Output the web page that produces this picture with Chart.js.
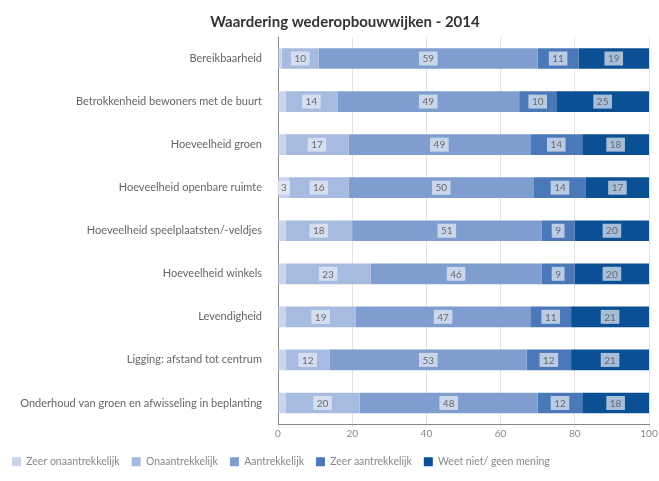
<!DOCTYPE html>
<html>
<head>
<meta charset="utf-8">
<script src="https://cdn.jsdelivr.net/npm/chart.js@4.4.0/dist/chart.umd.min.js"></script>
<style>
  html, body { margin: 0; padding: 0; background: #fff; }
  #wrap { width: 659px; height: 481px; position: relative; }
</style>
</head>
<body>
<div id="wrap"><canvas id="chart"></canvas></div>
<script>
const chartTitle = 'Waardering wederopbouwwijken - 2014';

const categories = [
    'Bereikbaarheid',
    'Betrokkenheid bewoners met de buurt',
    'Hoeveelheid groen',
    'Hoeveelheid openbare ruimte',
    'Hoeveelheid speelplaatsten/-veldjes',
    'Hoeveelheid winkels',
    'Levendigheid',
    'Ligging: afstand tot centrum',
    'Onderhoud van groen en afwisseling in beplanting'
];

const zeerOnaantrekkelijk = [1, 2, 2, 3, 2, 2, 2, 2, 2];
const onaantrekkelijk     = [10, 14, 17, 16, 18, 23, 19, 12, 20];
const aantrekkelijk       = [59, 49, 49, 50, 51, 46, 47, 53, 48];
const zeerAantrekkelijk   = [11, 10, 14, 14, 9, 9, 11, 12, 12];
const weetNiet            = [19, 25, 18, 17, 20, 20, 21, 21, 18];

const xTicks = [0, 20, 40, 60, 80, 100];

const font = 'Lato, "Open Sans", sans-serif';

// title sits a bit right of the canvas centre in the original
const titleDraw = {
    id: 'titleDraw',
    afterDraw(chart) {
        const ctx = chart.ctx;
        ctx.save();
        ctx.font = 'bold 15px ' + font;
        ctx.fillStyle = '#333';
        ctx.textAlign = 'center';
        ctx.textBaseline = 'middle';
        ctx.fillText(chartTitle, 345, 22);
        ctx.restore();
    }
};

const barLabels = {
    id: 'barLabels',
    afterDatasetsDraw(chart) {
        const ctx = chart.ctx;
        ctx.save();
        ctx.font = '10px ' + font;
        ctx.textAlign = 'center';
        ctx.textBaseline = 'middle';
        chart.data.datasets.forEach((ds, i) => {
            chart.getDatasetMeta(i).data.forEach((bar, j) => {
                const v = ds.data[j];
                if (v < 3) return;
                const txt = String(v);
                const w = ctx.measureText(txt).width + 7;
                const x = (bar.x + bar.base) / 2;
                const y = bar.y;
                ctx.fillStyle = 'rgba(232,238,248,0.7)';
                ctx.fillRect(x - w / 2, y - 7, w, 14);
                ctx.fillStyle = '#6a6a6a';
                ctx.fillText(txt, x, y + 0.5);
            });
        });
        ctx.restore();
    }
};

const mk = (label, data, color) => ({
    label, data, backgroundColor: color, borderWidth: 0,
    barPercentage: 0.96, categoryPercentage: 0.5
});

new Chart(document.getElementById('chart'), {
    type: 'bar',
    data: {
        labels: categories,
        datasets: [
            mk('Zeer onaantrekkelijk', zeerOnaantrekkelijk, '#c9d5ec'),
            mk('Onaantrekkelijk', onaantrekkelijk, '#a7bae0'),
            mk('Aantrekkelijk', aantrekkelijk, '#809dd0'),
            mk('Zeer aantrekkelijk', zeerAantrekkelijk, '#4a78b8'),
            mk('Weet niet/ geen mening', weetNiet, '#0b4f94')
        ]
    },
    options: {
        indexAxis: 'y',
        responsive: true,
        maintainAspectRatio: false,
        animation: false,
        layout: { padding: { left: 0, right: 2, top: 37, bottom: 4 } },
        plugins: {
            title: { display: false },
            legend: {
                position: 'bottom',
                align: 'start',
                labels: {
                    boxWidth: 9, boxHeight: 9, padding: 12,
                    color: '#888',
                    font: { family: font, size: 10.5 }
                }
            },
            tooltip: { enabled: false }
        },
        scales: {
            x: {
                stacked: true,
                min: 0, max: 100,
                afterBuildTicks: scale => { scale.ticks = xTicks.map(v => ({ value: v })); },
                afterFit: scale => { scale.height += 5; scale.paddingRight = 10; },
                grid: { color: '#e2e2e2', drawTicks: true, tickLength: 3 },
                border: { color: '#888' },
                ticks: { color: '#888', font: { family: font, size: 10 }, padding: 0 }
            },
            y: {
                stacked: true,
                afterFit: scale => { scale.width = 278; },
                grid: { display: false },
                border: { color: '#888' },
                ticks: { color: '#666', font: { family: font, size: 11 }, padding: 8 }
            }
        }
    },
    plugins: [barLabels, titleDraw]
});
</script>
</body>
</html>
